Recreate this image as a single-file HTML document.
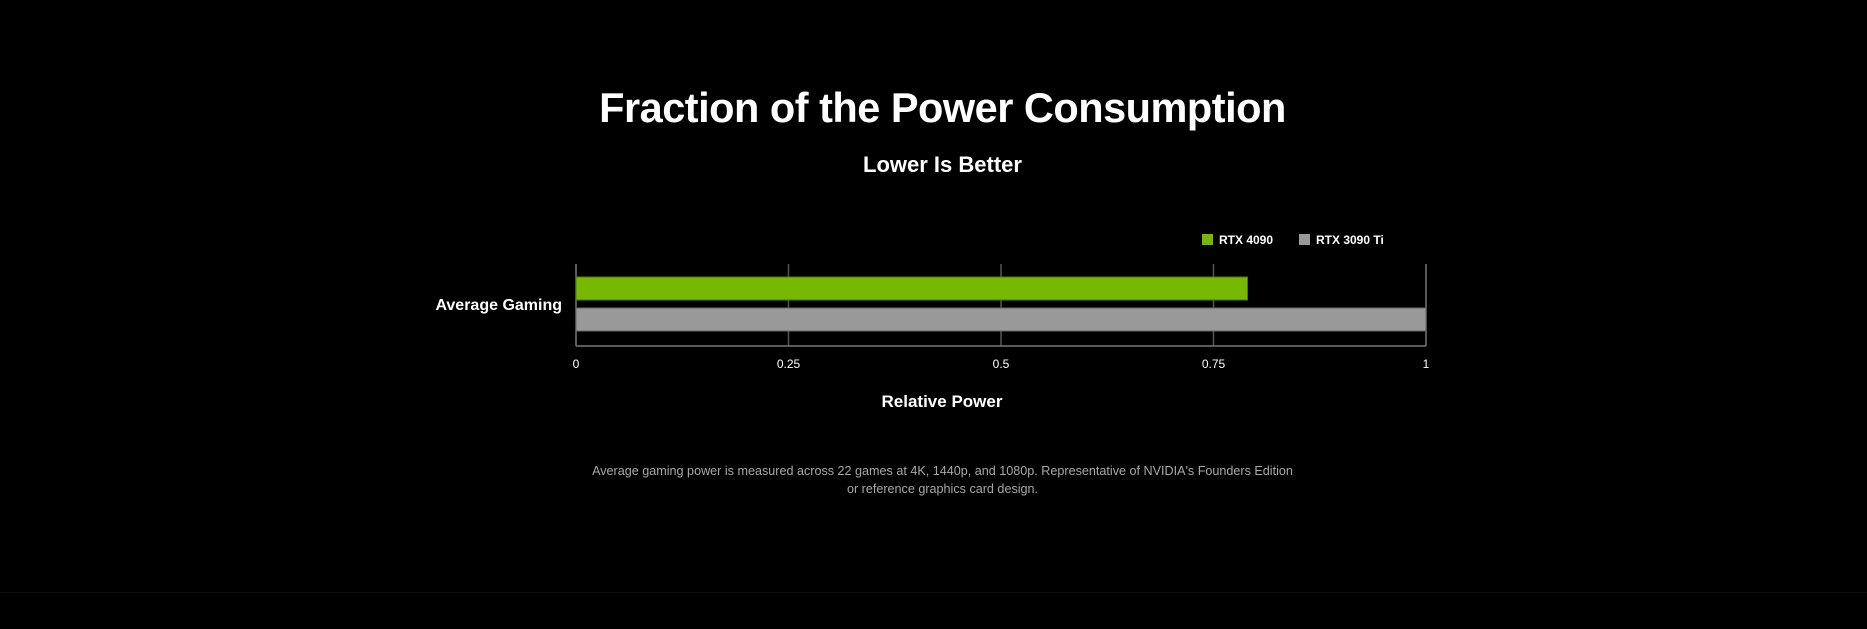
<!DOCTYPE html>
<html><head><meta charset="utf-8"><style>
html,body{margin:0;padding:0;background:#000;width:1867px;height:629px;overflow:hidden;font-family:"Liberation Sans",sans-serif;color:#fff}
.t{position:absolute;left:9px;width:1867px;text-align:center;font-weight:bold}
</style></head><body>
<div class="t" style="top:84px;font-size:41.5px;letter-spacing:-0.5px">Fraction of the Power Consumption</div>
<div class="t" style="top:152px;font-size:22px">Lower Is Better</div>
<svg id="chart" width="1867" height="629" style="position:absolute;left:0;top:0" xmlns="http://www.w3.org/2000/svg"></svg>
<div class="t" style="top:462px;font-size:12.6px;font-weight:normal;color:#a8a8a8;line-height:18px">Average gaming power is measured across 22 games at 4K, 1440p, and 1080p. Representative of NVIDIA's Founders Edition<br>or reference graphics card design.</div>
<div style="position:absolute;left:0;top:592px;width:1867px;height:1px;background:#0e0e0e"></div>
<script>
const categories = ["Average Gaming"];
const seriesNames = ["RTX 4090", "RTX 3090 Ti"];
const rtx4090 = [0.79];
const rtx3090ti = [1.0];
const tickValues = [0, 0.25, 0.5, 0.75, 1];
const tickLabels = ["0", "0.25", "0.5", "0.75", "1"];
const colors = ["#76b900", "#999999"];

const svg = document.getElementById('chart');
const NS = "http://www.w3.org/2000/svg";
const x0 = 576, x1 = 1426, yTop = 264, yBot = 346;
const xs = v => x0 + (v / 1) * (x1 - x0);
function mk(tag, attrs){const e=document.createElementNS(NS,tag);for(const k in attrs)e.setAttribute(k,attrs[k]);svg.appendChild(e);return e;}

tickValues.forEach((v,i)=>{
  const g = mk('line',{x1:xs(v),x2:xs(v),y1:yTop,y2:yBot,stroke:i===0||i===tickValues.length-1?'#777':'#555','stroke-width':1.5});
  
  
  const t = mk('text',{x:xs(v),y:368,'text-anchor':'middle',fill:'#fff','font-size':12,'font-family':'Liberation Sans, sans-serif'});
  t.textContent = tickLabels[i];
  
  
});
const base = mk('line',{x1:x0,x2:x1,y1:yBot,y2:yBot,stroke:'#777','stroke-width':1.5});



const bandH = yBot - yTop;
categories.forEach((c,i)=>{
  const by = yTop + i*bandH;
  const series = [rtx4090[i], rtx3090ti[i]];
  series.forEach((v,j)=>{
    const r = mk('rect',{x:x0,y:by+13+j*31,width:xs(v)-x0,height:23,fill:colors[j],stroke:j===0?'#4d7a00':'#666','stroke-width':1});
    
    
  });
  const l = mk('text',{x:562,y:by+46,'text-anchor':'end',fill:'#fff','font-size':16,'font-weight':'bold','font-family':'Liberation Sans, sans-serif'});
  l.textContent = c;
  
  
});

const legX = [1202, 1299];
seriesNames.forEach((n,j)=>{
  const s = mk('rect',{x:legX[j],y:234,width:11,height:11,fill:colors[j]});
  
  
  const t = mk('text',{x:legX[j]+17,y:244,fill:'#fff','font-size':12,'font-weight':'bold','font-family':'Liberation Sans, sans-serif'});
  t.textContent = n;
  
  
});

const at = mk('text',{x:942,y:407,'text-anchor':'middle',fill:'#fff','font-size':17,'font-weight':'bold','font-family':'Liberation Sans, sans-serif'});
at.textContent = "Relative Power";


</script>
</body></html>
